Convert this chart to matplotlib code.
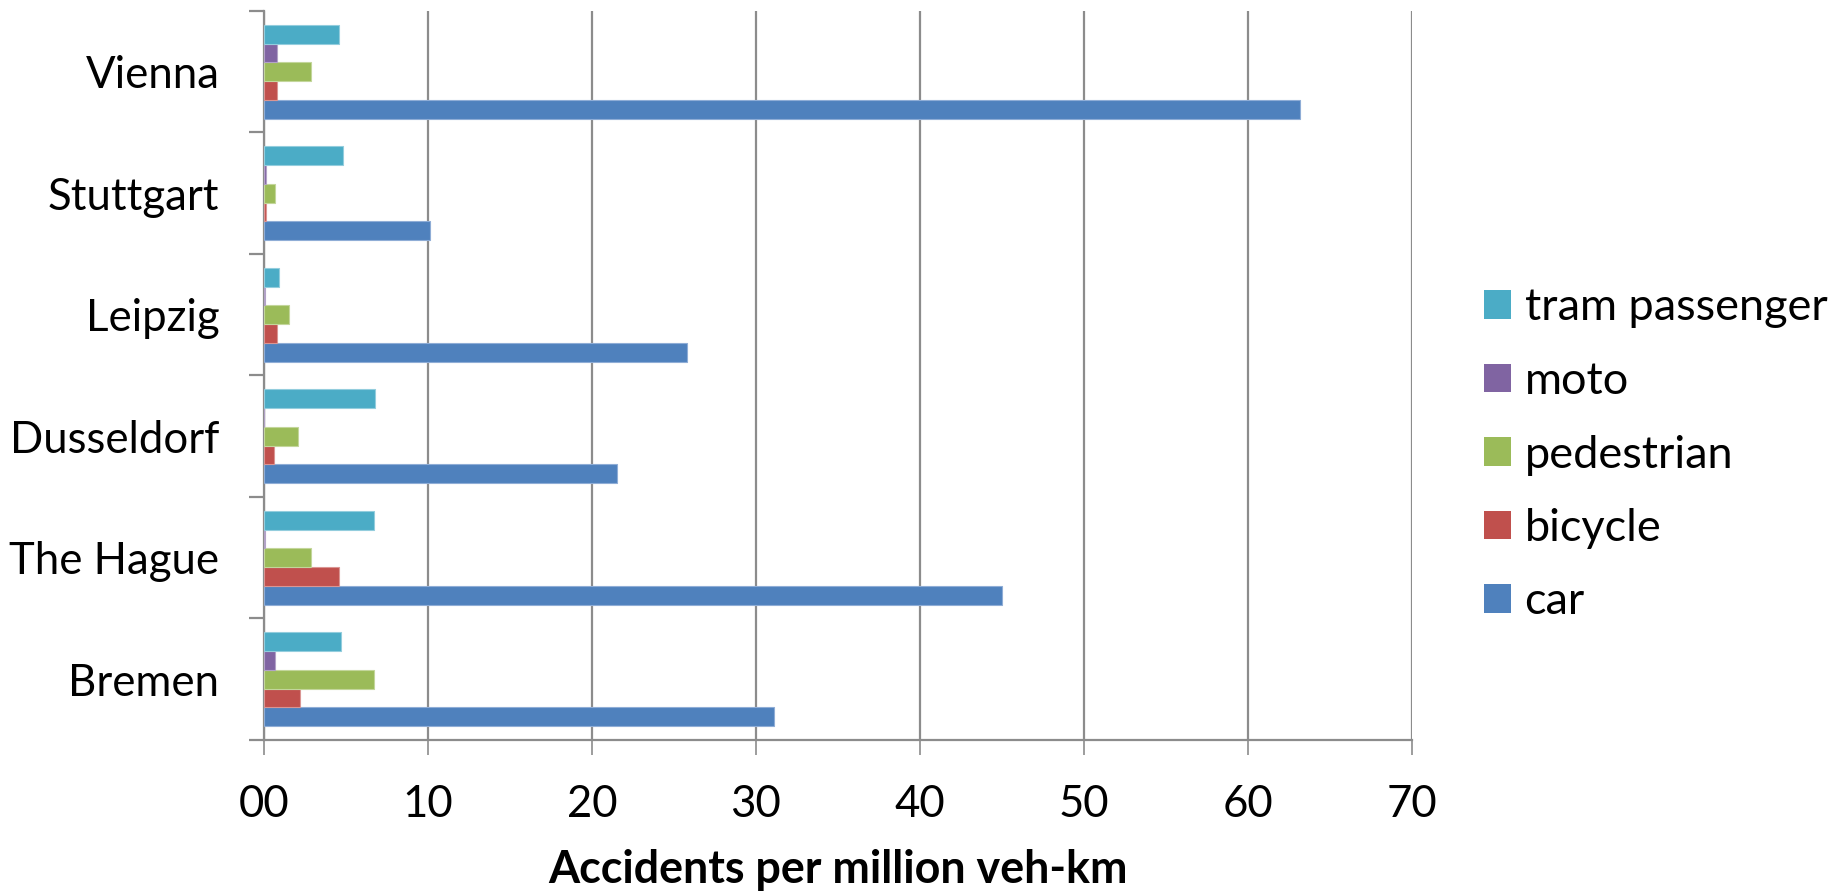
import numpy as np
import matplotlib
matplotlib.use("Agg")
import matplotlib.pyplot as plt

plt.rcParams['font.family'] = ['Lato', 'DejaVu Sans']

cities = ["Bremen", "The Hague", "Dusseldorf", "Leipzig", "Stuttgart", "Vienna"]
car = [31.1, 45.0, 21.5, 25.8, 10.1, 63.2]
bicycle = [2.2, 4.6, 0.6, 0.8, 0.1, 0.8]
pedestrian = [6.7, 2.9, 2.1, 1.5, 0.7, 2.9]
moto = [0.7, 0.05, 0.0, 0.05, 0.1, 0.8]
tram_passenger = [4.7, 6.7, 6.8, 0.9, 4.8, 4.6]

series_names = ["car", "bicycle", "pedestrian", "moto", "tram passenger"]
series_values = [car, bicycle, pedestrian, moto, tram_passenger]
colors = ["#4F81BD", "#C0504D", "#9BBB59", "#8064A2", "#4BACC6"]
edges = ["#8FADD6", "#DA9593", "#C3D69B", "#B2A2C7", "#93CDDD"]

x_ticks = [0, 10, 20, 30, 40, 50, 60, 70]
x_tick_labels = ["00", "10", "20", "30", "40", "50", "60", "70"]

fig = plt.figure(figsize=(18.43, 8.92), dpi=100)
ax = fig.add_axes([0.1432, 0.1704, 0.6229, 0.8173])

ypos = np.arange(len(cities))
h = 0.1543
handles = []
for i, (name, vals, c, ec) in enumerate(zip(series_names, series_values, colors, edges)):
    b = ax.barh(ypos + (i - 2) * h, vals, height=h, color=c, edgecolor=ec,
                linewidth=0.8, label=name, zorder=3)
    handles.append(b)

ax.set_xlim(0, 70)
ax.set_ylim(-0.5, len(cities) - 0.5)

grid_c = "#8C8C8C"
ax.set_xticks(x_ticks)
ax.set_xticklabels(x_tick_labels, fontsize=31.5)
ax.xaxis.grid(True, color=grid_c, linewidth=1.6, zorder=0)
ax.tick_params(axis='x', direction='out', length=11, width=1.2, color=grid_c, pad=21)

ax.set_yticks(ypos)
ax.set_yticklabels(cities, fontsize=31.5)
ax.set_yticks(np.arange(-0.5, len(cities)), minor=True)
ax.tick_params(axis='y', which='major', length=0, pad=32)
ax.tick_params(axis='y', which='minor', direction='out', length=11, width=1.6, color=grid_c)

for s in ["top", "right"]:
    ax.spines[s].set_visible(False)
for s in ["left", "bottom"]:
    ax.spines[s].set_color(grid_c)
    ax.spines[s].set_linewidth(1.6)

ax.set_xlabel("Accidents per million veh-km", fontsize=32.3, fontweight='bold', labelpad=17)

leg = ax.legend(handles[::-1], series_names[::-1], loc='center left',
                frameon=False, fontsize=32.5,
                handlelength=0.6, handleheight=0.6, handletextpad=0.3,
                labelspacing=0.72, borderaxespad=0.0, borderpad=0.0)
leg.set_bbox_to_anchor((1484 / 1843, 1 - 455 / 892), transform=fig.transFigure)
for p in leg.get_patches():
    p.set_linewidth(0)

fig.savefig("out.png", dpi=100)
